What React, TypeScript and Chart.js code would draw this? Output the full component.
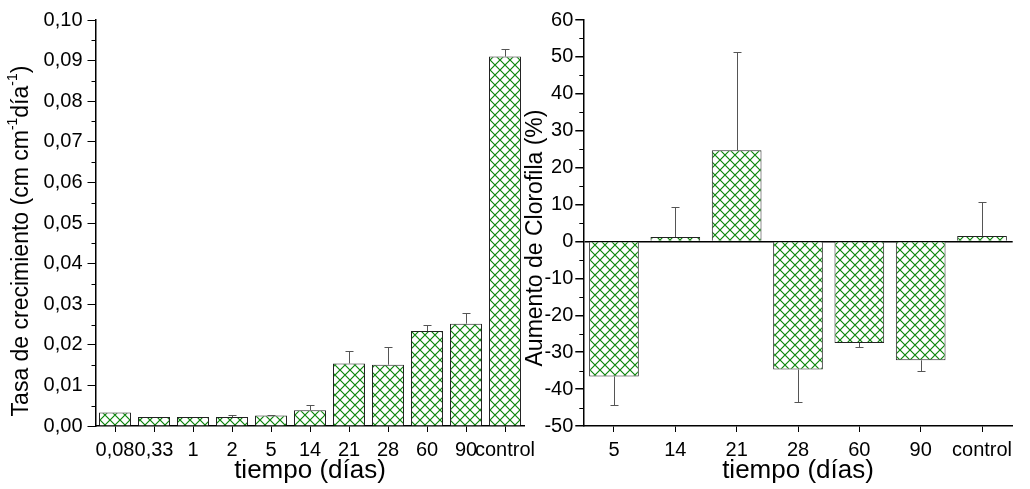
import React, { useEffect, useRef } from 'react';
import { Chart, registerables } from 'chart.js';

Chart.register(...registerables);

const FAMILY = '"Liberation Sans", Arial, Helvetica, sans-serif';

// Left panel: growth rate
const growthCategories = ['0,08', '0,33', '1', '2', '5', '14', '21', '28', '60', '90', 'control'];
const growthValues = [0.0033, 0.0022, 0.0022, 0.0022, 0.0026, 0.0039, 0.0154, 0.0151, 0.0234, 0.0252, 0.091];
const growthErrors = [0, 0, 0, 0.0005, 0.0001, 0.0013, 0.0031, 0.0043, 0.0014, 0.0026, 0.0018];
const growthTitleParts = [
  { text: 'Tasa de crecimiento (cm cm', sup: false },
  { text: '-1', sup: true },
  { text: 'día', sup: false },
  { text: '-1', sup: true },
  { text: ')', sup: false },
];

// Right panel: chlorophyll increase
const chlCategories = ['5', '14', '21', '28', '60', '90', 'control'];
const chlValues = [-36.6, 1.2, 24.7, -34.7, -27.5, -32.2, 1.5];
const chlErrors = [7.8, 8.0, 26.7, 8.8, 1.2, 2.8, 9.2];
const chlTitleParts = [{ text: 'Aumento de Clorofila (%)', sup: false }];

const xTitle = 'tiempo (días)';

function makeHatch(): CanvasPattern | string {
  const c = document.createElement('canvas');
  c.width = 10;
  c.height = 10;
  const g = c.getContext('2d');
  if (!g) return '#ffffff';
  g.fillStyle = '#ffffff';
  g.fillRect(0, 0, 10, 10);
  g.strokeStyle = '#0a850a';
  g.lineWidth = 1.2;
  g.beginPath();
  g.moveTo(-1, -1);
  g.lineTo(11, 11);
  g.moveTo(-1, 11);
  g.lineTo(11, -1);
  g.stroke();
  return g.createPattern(c, 'repeat') || '#ffffff';
}

function errorBarsPlugin(values: number[], errors: number[]) {
  return {
    id: 'errorBars',
    afterDatasetsDraw(chart: any) {
      const meta = chart.getDatasetMeta(0);
      const yScale = chart.scales.y;
      const ctx = chart.ctx;
      ctx.save();
      ctx.strokeStyle = '#555555';
      ctx.lineWidth = 1;
      meta.data.forEach((el: any, i: number) => {
        const e = errors[i];
        if (!e) return;
        const v = values[i];
        const end = v >= 0 ? v + e : v - e;
        const x = Math.round(el.x) + 0.5;
        const y0 = el.y;
        const y1 = Math.round(yScale.getPixelForValue(end)) + 0.5;
        ctx.beginPath();
        ctx.moveTo(x, y0);
        ctx.lineTo(x, y1);
        ctx.moveTo(x - 4, y1);
        ctx.lineTo(x + 4, y1);
        ctx.stroke();
      });
      ctx.restore();
    },
  };
}

const minorTicksPlugin = {
  id: 'minorTicks',
  afterDraw(chart: any) {
    const s = chart.scales.y;
    const ctx = chart.ctx;
    const ticks = s.ticks;
    ctx.save();
    ctx.strokeStyle = '#000';
    ctx.lineWidth = 1;
    for (let i = 0; i < ticks.length - 1; i++) {
      const mid = (ticks[i].value + ticks[i + 1].value) / 2;
      const y = Math.round(s.getPixelForValue(mid)) + 0.5;
      ctx.beginPath();
      ctx.moveTo(chart.chartArea.left - 4, y);
      ctx.lineTo(chart.chartArea.left, y);
      ctx.stroke();
    }
    ctx.restore();
  },
};

function yTitlePlugin(parts: { text: string; sup: boolean }[], dx: number, dy: number, size: number) {
  return {
    id: 'yTitle',
    afterDraw(chart: any) {
      const { ctx, chartArea } = chart;
      const cx = chartArea.left + dx;
      const cy = (chartArea.top + chartArea.bottom) / 2 + dy;
      const fMain = `${size}px ${FAMILY}`;
      const fSup = `${Math.round(size * 0.6)}px ${FAMILY}`;
      ctx.save();
      ctx.translate(cx, cy);
      ctx.rotate(-Math.PI / 2);
      let total = 0;
      parts.forEach((p) => {
        ctx.font = p.sup ? fSup : fMain;
        total += ctx.measureText(p.text).width;
      });
      let x = -total / 2;
      ctx.textAlign = 'left';
      ctx.textBaseline = 'middle';
      ctx.fillStyle = '#000';
      parts.forEach((p) => {
        ctx.font = p.sup ? fSup : fMain;
        ctx.fillText(p.text, x, p.sup ? -size * 0.38 : 0);
        x += ctx.measureText(p.text).width;
      });
      ctx.restore();
    },
  };
}

function baseX() {
  return {
    z: 1,
    grid: { display: true, offset: false, drawOnChartArea: false, tickLength: 6, tickColor: '#000', tickWidth: 1 },
    border: { display: true, color: '#000', width: 1.5 },
    ticks: { color: '#000', font: { family: FAMILY, size: 20 }, padding: 6, maxRotation: 0, autoSkip: false },
    title: { display: true, text: xTitle, color: '#000', font: { family: FAMILY, size: 26 }, padding: { top: 0, bottom: 3 } },
    afterFit: (s: any) => {
      s.height = 63;
    },
  };
}

export default function App() {
  const leftRef = useRef<HTMLCanvasElement>(null);
  const rightRef = useRef<HTMLCanvasElement>(null);

  useEffect(() => {
    const hatch = makeHatch();
    const left = new Chart(leftRef.current as HTMLCanvasElement, {
      type: 'bar',
      data: {
        labels: growthCategories,
        datasets: [
          {
            data: growthValues,
            backgroundColor: hatch as any,
            borderColor: '#222222',
            borderWidth: 1,
            barPercentage: 0.82,
            categoryPercentage: 1,
          },
        ],
      },
      options: {
        responsive: false,
        animation: false,
        layout: { padding: { left: 0, right: 20.5, top: 20, bottom: 0 } },
        plugins: { legend: { display: false }, tooltip: { enabled: false } },
        scales: {
          x: baseX() as any,
          y: {
            z: 1,
            min: 0,
            max: 0.1,
            ticks: {
              stepSize: 0.01,
              color: '#000',
              font: { family: FAMILY, size: 20 },
              padding: 5,
              callback: (v: any) => Number(v).toFixed(2).replace('.', ','),
            },
            grid: { drawOnChartArea: false, tickLength: 8, tickColor: '#000' },
            border: { display: true, color: '#000', width: 1.5 },
            afterFit: (s: any) => {
              s.width = 95.5;
            },
          } as any,
        },
      },
      plugins: [errorBarsPlugin(growthValues, growthErrors), minorTicksPlugin, yTitlePlugin(growthTitleParts, -73.5, 18, 23)],
    });

    const right = new Chart(rightRef.current as HTMLCanvasElement, {
      type: 'bar',
      data: {
        labels: chlCategories,
        datasets: [
          {
            data: chlValues,
            backgroundColor: hatch as any,
            borderColor: '#222222',
            borderWidth: 1,
            barPercentage: 0.81,
            categoryPercentage: 1,
          },
        ],
      },
      options: {
        responsive: false,
        animation: false,
        layout: { padding: { left: 0, right: 17.3, top: 20, bottom: 0 } },
        plugins: { legend: { display: false }, tooltip: { enabled: false } },
        scales: {
          x: baseX() as any,
          y: {
            z: 1,
            min: -50,
            max: 60,
            ticks: {
              stepSize: 10,
              color: '#000',
              font: { family: FAMILY, size: 20 },
              padding: 2,
              callback: (v: any) => String(v),
            },
            grid: {
              drawOnChartArea: true,
              tickLength: 8,
              tickColor: '#000',
              lineWidth: 1.5,
              color: (c: any) => (c.tick && c.tick.value === 0 ? '#000' : 'rgba(0,0,0,0)'),
            },
            border: { display: true, color: '#000', width: 1.5 },
            afterFit: (s: any) => {
              s.width = 63.3;
            },
          } as any,
        },
      },
      plugins: [errorBarsPlugin(chlValues, chlErrors), minorTicksPlugin, yTitlePlugin(chlTitleParts, -47.3, 15, 23)],
    });

    return () => {
      left.destroy();
      right.destroy();
    };
  }, []);

  return (
    <div style={{ position: 'fixed', left: 0, top: 0, width: 1030, height: 489, background: '#fff' }}>
      <canvas ref={leftRef} width={545} height={489} style={{ position: 'absolute', left: 0, top: 0, width: 545, height: 489 }} />
      <canvas ref={rightRef} width={510} height={489} style={{ position: 'absolute', left: 520, top: 0, width: 510, height: 489 }} />
    </div>
  );
}
